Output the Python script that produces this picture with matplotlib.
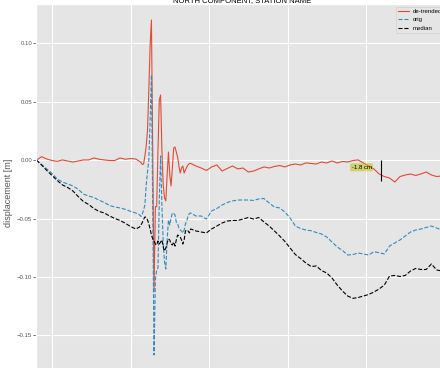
import numpy as np
import matplotlib
matplotlib.use("Agg")
import matplotlib.pyplot as plt
from matplotlib.ticker import MultipleLocator

plt.style.use('ggplot')
plt.rcParams['font.family'] = ['Liberation Sans', 'DejaVu Sans']

# sample times [s]: coarse before and after the shaking, 1 s through the event
t = np.concatenate([np.arange(48, 125, 4), np.arange(127, 167), np.arange(170, 359, 4)])

detrended = [
    0.0000, 0.0031, 0.0011, -0.0002, -0.0009, 0.0003, -0.0006, -0.0015, -0.0006, 0.0003,
    0.0003, 0.0020, 0.0009, 0.0003, -0.0002, -0.0002, 0.0020, 0.0009, 0.0015, 0.0011,
    -0.0010, -0.0019, -0.0036, -0.0032, 0.0037, 0.0122, 0.0259, 0.0602, 0.0987, 0.1201,
    0.0040, -0.1125, -0.0397, -0.0397, 0.0088, 0.0516, 0.0559, 0.0088, -0.0211, -0.0323,
    -0.0348, -0.0126, 0.0071, -0.0126, -0.0220, -0.0066, 0.0105, 0.0114, 0.0071, 0.0028,
    -0.0049, -0.0109, -0.0066, -0.0049, -0.0109, -0.0083, -0.0057, -0.0040, -0.0027, -0.0027,
    -0.0049, -0.0066, -0.0087, -0.0057, -0.0040, -0.0092, -0.0070, -0.0049, -0.0074, -0.0066,
    -0.0100, -0.0092, -0.0074, -0.0057, -0.0066, -0.0053, -0.0045, -0.0057, -0.0040, -0.0032,
    -0.0040, -0.0023, -0.0027, -0.0032, -0.0015, -0.0023, -0.0006, -0.0023, -0.0010, -0.0015,
    -0.0002, 0.0003, -0.0023, -0.0049, -0.0074, -0.0117, -0.0139, -0.0152, -0.0186, -0.0139,
    -0.0126, -0.0117, -0.0130, -0.0117, -0.0100, -0.0126, -0.0139, -0.0134,
]

orig = [
    0.0003, -0.0036, -0.0074, -0.0113, -0.0160, -0.0186, -0.0203, -0.0220, -0.0248, -0.0289,
    -0.0306, -0.0318, -0.0342, -0.0361, -0.0387, -0.0400, -0.0408, -0.0420, -0.0437, -0.0451,
    -0.0468, -0.0481, -0.0460, -0.0426, -0.0383, -0.0211, -0.0100, 0.0003, 0.0345, 0.0731,
    -0.0426, -0.1667, -0.1025, -0.0939, -0.0922, -0.0340, 0.0037, -0.0383, -0.0708, -0.0871,
    -0.0931, -0.0682, -0.0511, -0.0554, -0.0494, -0.0451, -0.0455, -0.0468, -0.0528, -0.0545,
    -0.0580, -0.0597, -0.0605, -0.0622, -0.0597, -0.0545, -0.0520, -0.0477, -0.0455, -0.0451,
    -0.0477, -0.0477, -0.0503, -0.0434, -0.0413, -0.0383, -0.0361, -0.0348, -0.0340, -0.0340,
    -0.0340, -0.0344, -0.0331, -0.0327, -0.0366, -0.0400, -0.0408, -0.0443, -0.0494, -0.0563,
    -0.0584, -0.0597, -0.0603, -0.0618, -0.0631, -0.0657, -0.0700, -0.0742, -0.0772, -0.0811,
    -0.0807, -0.0794, -0.0802, -0.0811, -0.0783, -0.0791, -0.0802, -0.0734, -0.0708, -0.0682,
    -0.0648, -0.0614, -0.0597, -0.0588, -0.0575, -0.0563, -0.0580, -0.0597,
]

median = [
    0.0003, -0.0040, -0.0087, -0.0130, -0.0173, -0.0211, -0.0233, -0.0263, -0.0310, -0.0353,
    -0.0378, -0.0413, -0.0438, -0.0451, -0.0477, -0.0498, -0.0515, -0.0539, -0.0567, -0.0588,
    -0.0571, -0.0554, -0.0533, -0.0507, -0.0485, -0.0490, -0.0511, -0.0545, -0.0588, -0.0640,
    -0.0674, -0.0691, -0.0717, -0.0725, -0.0691, -0.0717, -0.0700, -0.0682, -0.0742, -0.0777,
    -0.0751, -0.0708, -0.0674, -0.0682, -0.0717, -0.0725, -0.0700, -0.0734, -0.0682, -0.0640,
    -0.0648, -0.0657, -0.0682, -0.0717, -0.0682, -0.0605, -0.0597, -0.0605, -0.0622, -0.0588,
    -0.0605, -0.0614, -0.0622, -0.0588, -0.0563, -0.0537, -0.0520, -0.0515, -0.0515, -0.0503,
    -0.0490, -0.0503, -0.0490, -0.0528, -0.0563, -0.0605, -0.0648, -0.0695, -0.0751, -0.0807,
    -0.0841, -0.0879, -0.0909, -0.0905, -0.0944, -0.0965, -0.1008, -0.1068, -0.1119, -0.1162,
    -0.1182, -0.1175, -0.1162, -0.1149, -0.1128, -0.1102, -0.1068, -0.0991, -0.0986, -0.0995,
    -0.0986, -0.0948, -0.0926, -0.0935, -0.0935, -0.0888, -0.0939, -0.0948,
]

# coseismic offset picked from the de-trended series
step_time = 311.5
offset = -0.018

fig = plt.figure(figsize=(4.4, 3.68), dpi=100)
ax = fig.add_axes([0.0825, -0.0386, 0.9334, 1.0277])

ax.plot(t, detrended, '-', color='#E24A33', lw=0.8, label='de-trended')
ax.plot(t, orig, '--', color='#348ABD', lw=0.8, label='orig')
ax.plot(t, median, '--', color='k', lw=0.8, label='median')

ax.vlines(step_time, offset, 0.0, color='k', lw=0.8)
ax.text(296.6, offset / 3, '%.1f cm' % (offset * 100), fontsize=4.3,
        ha='center', va='center',
        bbox=dict(boxstyle='round,pad=0.25', fc='y', ec='none', alpha=0.5))

ax.set_xlim(48, 361.9)
ax.set_ylim(-0.19, 0.1338)
ax.xaxis.set_major_locator(MultipleLocator(60))
ax.yaxis.set_major_locator(MultipleLocator(0.05))
ax.tick_params(labelsize=4.3, length=2, width=0.6, pad=1)
ax.tick_params(axis='x', labelbottom=False)

ax.set_ylabel('displacement [m]', fontsize=6.5, color='#555555', labelpad=3)
ax.set_title('NORTH COMPONENT, STATION NAME', fontsize=5.5, pad=0.5)

ax.legend(loc='upper right', fontsize=4.3, handlelength=1.8, handletextpad=0.6,
          borderaxespad=0.45, labelspacing=0.5)

fig.savefig('out.png', dpi=100)
